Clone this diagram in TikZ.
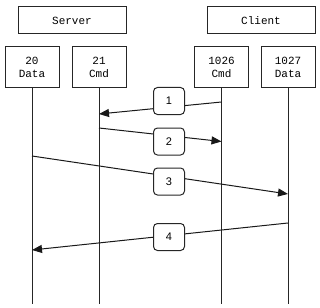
\documentclass[tikz,border=0pt]{standalone}
\usepackage{fontspec}
\setmainfont{Liberation Sans}
\newfontfamily\monof{Liberation Mono}
\usetikzlibrary{arrows.meta}
\begin{document}
\begin{tikzpicture}[x=1pt,y=-1pt,
  hostbox/.style={draw=black!85,line width=1pt,fill=white,minimum width=108pt,minimum height=27pt,inner sep=0pt,font=\monof\fontsize{11}{13}\selectfont},
  portbox/.style={draw=black!85,line width=1pt,fill=white,minimum width=54pt,minimum height=41pt,inner sep=0pt,align=center,font=\monof\fontsize{11}{13}\selectfont},
  numbox/.style={draw=black!85,line width=1pt,fill=white,rounded corners=4pt,minimum width=31pt,minimum height=27pt,inner sep=0pt,font=\fontsize{11}{13}\selectfont},
  life/.style={draw=black!85,line width=1pt},
  msg/.style={draw=black!90,line width=1pt,-{Triangle[length=10pt,width=8pt]}}]
\useasboundingbox (0,0) rectangle (320,307);
\node[hostbox] (server) at (72,20.5) {Server};
\node[hostbox] (client) at (261,20.5) {Client};
\node[portbox] (p20) at (32,67.5) {20\\Data};
\node[portbox] (p21) at (99,67.5) {21\\Cmd};
\node[portbox] (p1026) at (221.5,67.5) {1026\\Cmd};
\node[portbox] (p1027) at (288,67.5) {1027\\Data};
\coordinate (e20) at (32,304);
\coordinate (e21) at (99,304);
\coordinate (e1026) at (221.5,304);
\coordinate (e1027) at (288,304);
\draw[life] (p20.south) -- (e20);
\draw[life] (p21.south) -- (e21);
\draw[life] (p1026.south) -- (e1026);
\draw[life] (p1027.south) -- (e1027);
\coordinate (a1s) at (221.5,102);
\coordinate (a1e) at (99,114);
\coordinate (a2s) at (99,128);
\coordinate (a2e) at (221.5,141.5);
\coordinate (a3s) at (32,156);
\coordinate (a3e) at (288,194);
\coordinate (a4s) at (288,223);
\coordinate (a4e) at (32,250);
\draw[msg] (a1s) -- (a1e);
\draw[msg] (a2s) -- (a2e);
\draw[msg] (a3s) -- (a3e);
\draw[msg] (a4s) -- (a4e);
\node[numbox] (n1) at (169,101) {1};
\node[numbox] (n2) at (169,141.5) {2};
\node[numbox] (n3) at (169,181.5) {3};
\node[numbox] (n4) at (169,237) {4};
\end{tikzpicture}
\end{document}
